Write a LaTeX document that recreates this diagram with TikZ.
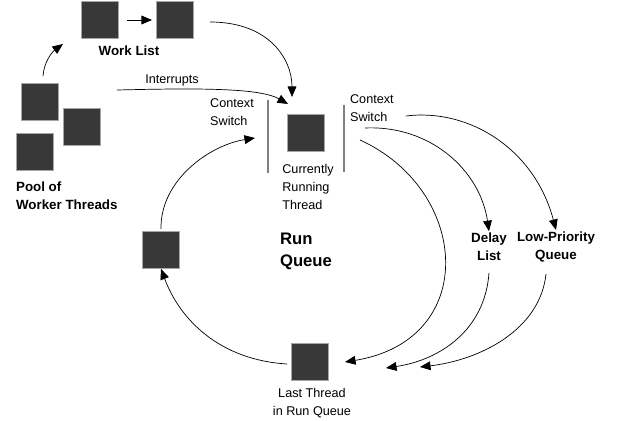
\documentclass[tikz,border=0pt]{standalone}
\usepackage{fontspec}
\setmainfont{Liberation Sans}
\usetikzlibrary{arrows.meta}
\begin{document}
\begin{tikzpicture}[x=0.02cm,y=-0.02cm,
    thread/.style={draw=gray!70,fill=black!78,minimum size=0.74cm,inner sep=0pt},
    lbl/.style={font=\fontsize{7.2}{10}\selectfont,align=center,inner sep=1pt},
    blbl/.style={lbl,font=\fontsize{7.6}{10}\selectfont\bfseries},
    flow/.style={-{Triangle[length=6pt,width=5pt]},thin}]
    \useasboundingbox (0,0) rectangle (626,420);
    % threads
    \node (w1)[thread] at (100,20) {};
    \node (w2)[thread] at (175,20) {};
    \node (p1)[thread] at (40,102) {};
    \node (p2)[thread] at (82,127) {};
    \node (p3)[thread] at (35,152) {};
    \node (cur)[thread] at (306,133) {};
    \node (side)[thread] at (161,250) {};
    \node (last)[thread] at (310,362) {};
    % labels
    \node (worklist)[blbl] at (129,51) {Work List};
    \node (pool)[blbl,align=left,anchor=west] at (14,196) {Pool of\\Worker Threads};
    \node (intr)[lbl] at (172,80) {Interrupts};
    \node (csl)[lbl,align=left] at (232,112) {Context\\Switch};
    \node (csr)[lbl,align=left,anchor=west] at (348,108) {Context\\Switch};
    \node (curl)[lbl,align=left] at (308,187) {Currently\\Running\\Thread};
    \node (runq)[blbl,font=\fontsize{9.5}{12.5}\selectfont\bfseries,align=left] at (306,251) {Run\\Queue};
    \node (delay)[blbl] at (489,247) {Delay\\List};
    \node (lowp)[blbl] at (556,247) {Low-Priority\\Queue};
    \node (lastl)[lbl] at (312,403) {Last Thread\\in Run Queue};
    % context switch bars
    \coordinate (bl1) at (268,100); \coordinate (bl2) at (268,173);
    \coordinate (br1) at (344,105); \coordinate (br2) at (344,172);
    \draw[gray,semithick] (bl1) -- (bl2);
    \draw[gray,semithick] (br1) -- (br2);
    % connectors
    \coordinate (pa) at (43,76);
    \coordinate (pb) at (63,44);
    \coordinate (wa) at (127,20);
    \coordinate (wb) at (152,20);
    \coordinate (wc) at (210,22);
    \coordinate (i0) at (117,90);
    \coordinate (i1) at (288,104);
    \coordinate (wl1) at (292,97);
    \coordinate (s1) at (255,138);
    \coordinate (cs1) at (365,128);
    \coordinate (cs2) at (406,116);
    \coordinate (l1) at (345,362);
    \coordinate (l2) at (386,368);
    \coordinate (l3) at (420,367);
    \draw[flow] (wa) -- (wb);
    \draw[flow] (pa) .. controls (44,62) and (52,52) .. (pb);
    \draw[flow] (wc) .. controls (270,22) and (292,60) .. (wl1);
    \draw[flow] (i0) .. controls (200,88) and (260,88) .. (i1);
    \draw[flow] (cs1) .. controls (430,125) and (480,170) .. (delay.north);
    \draw[flow] (cs2) .. controls (470,108) and (535,150) .. (lowp.north);
    \draw[flow] (360,140) .. controls (470,190) and (480,340) .. (l1);
    \draw[flow] (delay.south) ++(0,10) .. controls (485,330) and (440,360) .. (l2);
    \draw[flow] (lowp.south) ++(-10,10) .. controls (540,330) and (480,360) .. (l3);
    \draw[flow] (last.west) ++(-4,2) .. controls (220,360) and (180,320) .. (side.south);
    \draw[flow] (side.north) ++(0,-2) .. controls (160,180) and (210,145) .. (s1);
\end{tikzpicture}
\end{document}
